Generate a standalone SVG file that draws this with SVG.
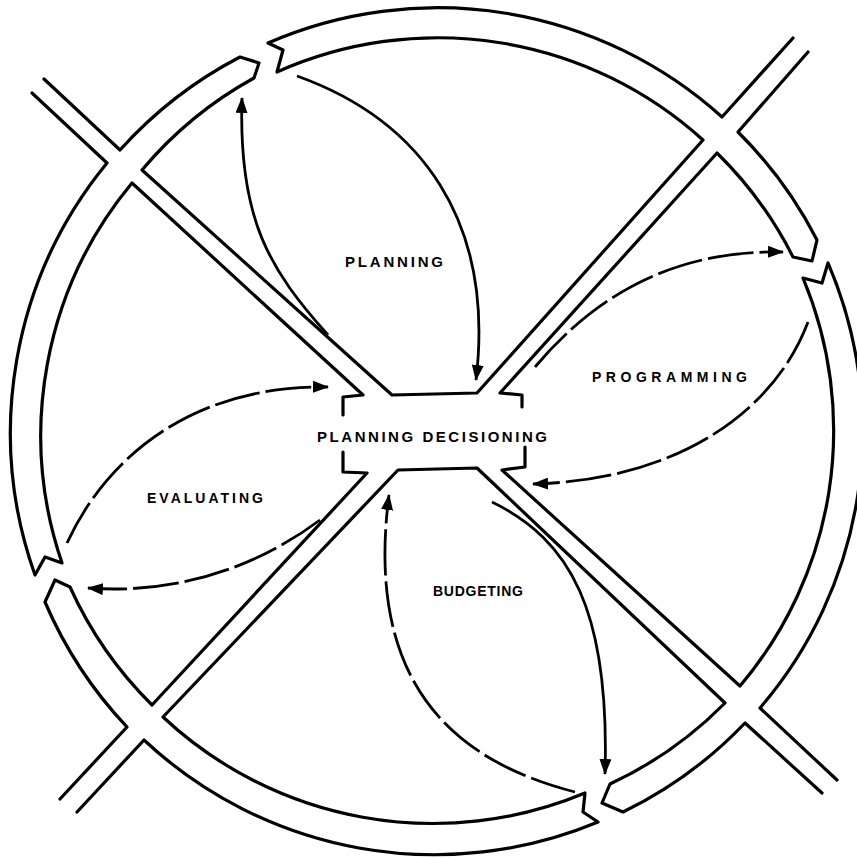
<svg xmlns="http://www.w3.org/2000/svg" width="857" height="858" viewBox="0 0 857 858">
<style>
.ln{fill:none;stroke:#000;stroke-width:3.2;stroke-linejoin:round;stroke-linecap:round}
.ar{fill:none;stroke:#000;stroke-width:2.8;stroke-dasharray:46 6}
.solid{stroke-dasharray:none}
.lbl{font-family:"Liberation Sans",Arial,sans-serif;font-weight:bold;fill:#000}
</style>
<defs>
<marker id="ah" viewBox="0 0 16 12" refX="15" refY="6" markerWidth="16" markerHeight="12" orient="auto" markerUnits="userSpaceOnUse"><path d="M0,0 L16,6 L0,12 z" fill="#000"/></marker>
</defs>
<rect width="857" height="858" fill="#fff"/>
<g id="ring-and-bands" class="ln">
<path d="M32,93 L107,163 A425,425 0 0 0 35,575 L45,557 L62,563 A395,395 0 0 1 132,183 L363,395 L343,397 L343,415"/>
<path d="M44,79 L120,150 A425,425 0 0 1 240,57 L259,63 L254,78 A395,395 0 0 0 142,170 L392,395 L477,393 L703,140 A395,395 0 0 0 277,72 L283,50 L268,43 A425,425 0 0 1 722,117 L793,38"/>
<path d="M808,52 L738,132 A425,425 0 0 1 817,240 L812,261 L793,257 A395,395 0 0 0 717,153 L500,393 L522,395 L522,407"/>
<path d="M525,447 L525,467 L502,470 L740,686 A395,395 0 0 0 803,278 L822,283 L828,263 A425,425 0 0 1 760,708 L837,780"/>
<path d="M822,793 L745,723 A425,425 0 0 1 623,812 L602,803 L610,784 A395,395 0 0 0 725,703 L477,468 L398,470 L163,717 A395,395 0 0 0 585,793 L583,812 L598,822 A425,425 0 0 1 144,740 L77,812"/>
<path d="M60,799 L127,727 A425,425 0 0 1 45,602 L55,580 L70,587 A395,395 0 0 0 152,705 L367,473 L343,472 L343,452"/>
</g>
<g id="connectors">
<path class="ar solid" d="M328,335 C270,270 238,220 242,98" marker-end="url(#ah)"/>
<path class="ar solid" d="M297,76 C420,120 495,220 476,380" marker-end="url(#ah)"/>
<path class="ar" d="M535,367 C600,290 680,250 783,252" marker-end="url(#ah)"/>
<path class="ar" d="M808,322 C775,410 680,480 533,484" marker-end="url(#ah)"/>
<path class="ar solid" d="M492,502 C570,540 610,610 605,774" marker-end="url(#ah)"/>
<path class="ar" d="M575,792 C450,760 365,680 389,495" marker-end="url(#ah)"/>
<path class="ar" d="M67,543 C110,450 200,385 328,387" marker-end="url(#ah)"/>
<path class="ar" d="M320,520 C260,565 180,595 88,588" marker-end="url(#ah)"/>
</g>
<g id="node-decisioning"><text class="lbl" x="317" y="442" font-size="15" textLength="230" lengthAdjust="spacing">PLANNING DECISIONING</text></g>
<g id="node-planning"><text class="lbl" x="345" y="267" font-size="15" textLength="98" lengthAdjust="spacing">PLANNING</text></g>
<g id="node-programming"><text class="lbl" x="592" y="382" font-size="14" textLength="155" lengthAdjust="spacing">PROGRAMMING</text></g>
<g id="node-budgeting"><text class="lbl" x="433" y="596" font-size="14" textLength="90" lengthAdjust="spacing">BUDGETING</text></g>
<g id="node-evaluating"><text class="lbl" x="147" y="503" font-size="14" textLength="116" lengthAdjust="spacing">EVALUATING</text></g>
</svg>
